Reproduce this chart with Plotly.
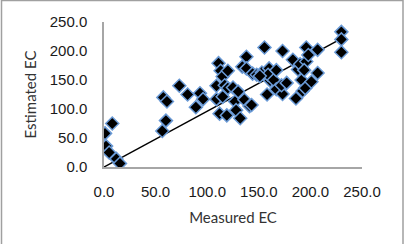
import numpy as np
import plotly.graph_objects as go

measured = [1, 2, 5, 8, 12, 15.5, 56.5, 57.5, 61, 60, 73, 81, 89, 93, 96, 109, 109, 111, 112, 113,
            115, 115, 119, 120, 117, 120, 125, 127, 128, 130, 132, 134, 138, 138, 136, 141, 143, 144,
            148, 153, 155.5, 158, 160, 161, 159, 164.5, 167, 167, 173, 173, 172, 177, 183, 186, 188,
            190, 191.5, 192.5, 195, 196, 196, 198, 201, 207, 207, 230, 230, 230, 194, 151]
estimated = [58, 36, 25, 75, 14, 6, 62, 120, 113, 80, 140, 125, 103, 127, 117, 140, 117, 179, 92, 166,
             121, 156, 89, 166, 141, 136, 137, 113, 98, 130, 84, 173, 190, 170, 116, 105, 107, 161,
             159, 163, 206, 125, 170, 149, 159, 150, 134, 167, 200, 126, 141, 145, 185, 118, 168,
             177, 150, 131, 136, 206, 182, 193, 147, 202, 162, 233, 220, 198, 167, 157]
tick_vals = [0, 50, 100, 150, 200, 250]
tick_text = ["0.0", "50.0", "100.0", "150.0", "200.0", "250.0"]

x = np.array(measured, dtype=float)
y = np.array(estimated, dtype=float)
# linear trendline with intercept fixed at zero
slope = float((x * y).sum() / (x * x).sum())
tx = np.array([0.0, x.max()])
ty = slope * tx

W, H = 405, 244
L, R, T, B = 104, 43, 22, 77

fig = go.Figure()
fig.add_trace(go.Scatter(x=tx, y=ty, mode="lines", line=dict(color="black", width=1.5),
                         showlegend=False, hoverinfo="skip"))
fig.add_trace(go.Scatter(x=measured, y=estimated, mode="markers",
                         marker=dict(symbol="diamond", size=10, color="black",
                                     line=dict(color="#6a9ad6", width=1.5)),
                         showlegend=False))

pw = W - L - R
ph = H - T - B
fig.add_shape(type="rect", xref="paper", yref="paper",
              x0=(1.5 - L) / pw, x1=(403 - L) / pw,
              y0=(H - B - 260) / ph, y1=(H - B - 0.5) / ph,
              line=dict(color="#a0a0a0", width=1.5), fillcolor="rgba(0,0,0,0)", layer="below")

axis_common = dict(range=[0, 250], tickvals=tick_vals, ticktext=tick_text, showgrid=False,
                   zeroline=False, showline=True, linecolor="#a6a6a6", linewidth=1.5,
                   ticks="", tickfont=dict(family="Liberation Sans, Arial", size=15, color="#1a1a1a"))
fig.update_layout(
    width=W, height=H,
    margin=dict(l=L, r=R, t=T, b=B),
    paper_bgcolor="white", plot_bgcolor="white",
    xaxis=dict(**axis_common, ticklabelstandoff=10,
               title=dict(text="Measured EC", font=dict(family="Lato", size=15, color="#333"), standoff=14)),
    yaxis=dict(**axis_common, ticklabelstandoff=12,
               title=dict(text="Estimated EC", font=dict(family="Lato", size=15, color="#333"), standoff=9)),
)
fig.write_html("out.html")
